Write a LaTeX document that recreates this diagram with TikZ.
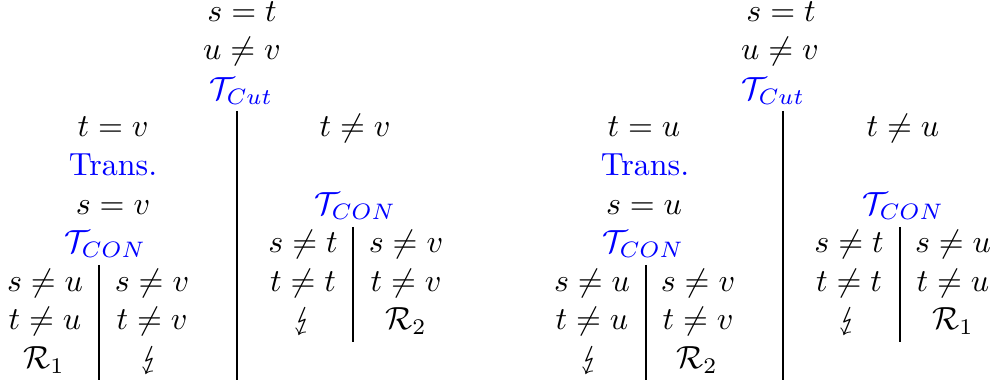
\documentclass[tikz,border=0pt]{standalone}
\usepackage{amsmath,amssymb}
\usepackage{stmaryrd}
\tikzset{
  f/.style={anchor=base,inner sep=0pt,font=\normalsize},
  rule/.style={text=blue},
  sep/.style={line width=0.32pt,black},
}
\begin{document}
\begin{tikzpicture}[x=0.3125pt,y=-0.3125pt]
\useasboundingbox (0,0) rectangle (996,385);
% ---------------- left tree ----------------
\node[f] (a1) at (242,22) {$s = t$};
\node[f] (a2) at (242,60) {$u \neq v$};
\node[f,rule] (a3) at (241,100) {$\mathcal{T}_{Cut}$};
\coordinate (la1) at (237,111);
\coordinate (la2) at (237,380);
\draw[sep] (la1) -- (la2);
\node[f] (b1) at (113,137) {$t = v$};
\node[f,rule] (b2) at (113,176) {Trans.};
\node[f] (b3) at (113,215) {$s = v$};
\node[f,rule] (b4) at (105,253) {$\mathcal{T}_{CON}$};
\coordinate (lb1) at (99,265);
\coordinate (lb2) at (99,380);
\draw[sep] (lb1) -- (lb2);
\node[f] (c1) at (45,292) {$s \neq u$};
\node[f] (c2) at (45,330) {$t \neq u$};
\node[f] (c3) at (44,369) {$\mathcal{R}_1$};
\node[f] (d1) at (152,292) {$s \neq v$};
\node[f] (d2) at (152,330) {$t \neq v$};
\node[f] (d3) at (150,369) {$\lightning$};
\node[f] (e1) at (355,137) {$t \neq v$};
\node[f,rule] (e2) at (355,215) {$\mathcal{T}_{CON}$};
\coordinate (le1) at (353,227);
\coordinate (le2) at (353,342);
\draw[sep] (le1) -- (le2);
\node[f] (g1) at (303,253) {$s \neq t$};
\node[f] (g2) at (303,292) {$t \neq t$};
\node[f] (g3) at (303,330) {$\lightning$};
\node[f] (h1) at (406,253) {$s \neq v$};
\node[f] (h2) at (406,292) {$t \neq v$};
\node[f] (h3) at (406,330) {$\mathcal{R}_2$};
% ---------------- right tree ----------------
\node[f] (A1) at (781,22) {$s = t$};
\node[f] (A2) at (780,60) {$u \neq v$};
\node[f,rule] (A3) at (773,100) {$\mathcal{T}_{Cut}$};
\coordinate (lA1) at (783,111);
\coordinate (lA2) at (783,380);
\draw[sep] (lA1) -- (lA2);
\node[f] (B1) at (644,137) {$t = u$};
\node[f,rule] (B2) at (645,176) {Trans.};
\node[f] (B3) at (644,215) {$s = u$};
\node[f,rule] (B4) at (643,253) {$\mathcal{T}_{CON}$};
\coordinate (lB1) at (646,265);
\coordinate (lB2) at (646,380);
\draw[sep] (lB1) -- (lB2);
\node[f] (C1) at (592,292) {$s \neq u$};
\node[f] (C2) at (592,330) {$t \neq u$};
\node[f] (C3) at (590,369) {$\lightning$};
\node[f] (D1) at (698,292) {$s \neq v$};
\node[f] (D2) at (698,330) {$t \neq v$};
\node[f] (D3) at (697,369) {$\mathcal{R}_2$};
\node[f] (E1) at (903,137) {$t \neq u$};
\node[f,rule] (E2) at (903,215) {$\mathcal{T}_{CON}$};
\coordinate (lE1) at (900,227);
\coordinate (lE2) at (900,342);
\draw[sep] (lE1) -- (lE2);
\node[f] (G1) at (849,253) {$s \neq t$};
\node[f] (G2) at (849,292) {$t \neq t$};
\node[f] (G3) at (848,330) {$\lightning$};
\node[f] (H1) at (953,253) {$s \neq u$};
\node[f] (H2) at (953,292) {$t \neq u$};
\node[f] (H3) at (953,330) {$\mathcal{R}_1$};
\end{tikzpicture}
\end{document}
